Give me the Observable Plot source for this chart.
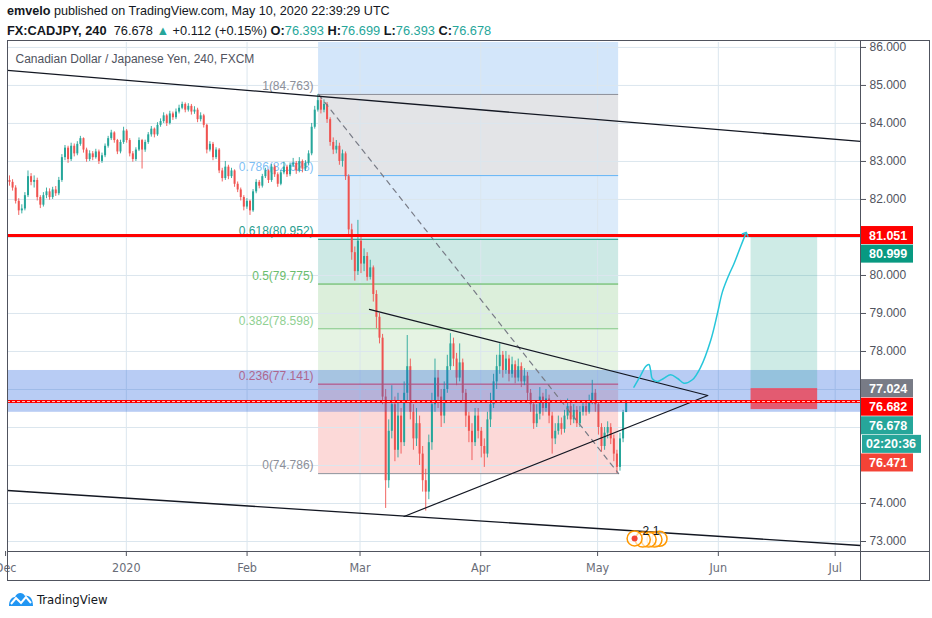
<!DOCTYPE html>
<html><head><meta charset="utf-8">
<script src="https://cdn.jsdelivr.net/npm/d3@7"></script>
<script src="https://cdn.jsdelivr.net/npm/@observablehq/plot@0.6"></script>
<style>
body{margin:0;background:#fff;width:932px;height:618px;overflow:hidden;font-family:"Liberation Sans",Arial,sans-serif;color:#131722;position:relative;}
#hdr{height:38px;position:relative;}
.ln{position:absolute;left:7px;white-space:nowrap;}
.l1{top:4px;font-size:12.6px;} .l2{top:23px;font-size:12.8px;}
.t{color:#26a69a}
#chart{position:absolute;left:0;top:38px;}
#foot{position:absolute;left:8px;top:591px;display:flex;align-items:center;font-family:"Liberation Sans Narrow","DejaVu Sans Condensed","Liberation Sans",sans-serif;font-size:13px;color:#131722;}
#foot svg{margin-right:3px;}
</style></head>
<body>
<div id="hdr">
<div class="ln l1"><b>emvelo</b> published on TradingView.com, May 10, 2020 22:39:29 UTC</div>
<div class="ln l2"><b>FX:CADJPY, 240</b>&nbsp; 76.678 <span class="t">▲</span> +0.112 (+0.15%) <b>O:</b><span class="t">76.393</span> <b>H:</b><span class="t">76.699</span> <b>L:</b><span class="t">76.393</span> <b>C:</b><span class="t">76.678</span></div>
</div>
<div id="chart"></div>
<div id="foot"><svg width="26" height="16" viewBox="0 0 26 16"><path d="M1 15 C1 9 4 6 7 6 C9 1 15 1 17 5 C22 4 25 8 25 15 Z" fill="#2196f3"/><polyline points="3,13 8,7 13,12 18,6 23,12" fill="none" stroke="#fff" stroke-width="2"/></svg><span>TradingView</span></div>
<script>
// ---- candles (sampled bars, CADJPY) ----
const barStart = "2019-12-02T00:00:00Z";
const barHours = 19;
const firstOpen = 82.50;
const closes = [
82.45,82.30,81.95,81.70,81.75,82.10,82.60,82.45,82.50,82.05,
81.85,82.10,82.20,82.05,82.25,82.15,82.50,83.10,83.35,83.05,
83.40,83.20,83.45,83.60,83.30,83.05,83.20,83.10,83.25,83.00,
83.15,83.40,83.60,83.75,83.55,83.25,83.50,83.80,83.55,83.20,
83.05,83.30,83.55,83.30,83.50,83.70,83.85,83.70,83.95,84.05,
84.20,84.00,84.25,84.15,84.30,84.40,84.50,84.35,84.45,84.30,
84.35,84.10,84.20,83.95,83.30,83.45,83.10,83.30,82.75,82.55,
82.85,82.60,82.75,82.40,82.25,82.05,81.80,81.95,81.70,82.20,
82.45,82.35,82.60,82.75,82.50,82.85,82.65,82.40,82.70,82.85,
82.65,82.90,82.95,82.75,83.00,82.80,82.95,83.20,83.90,84.35,
84.60,84.35,84.50,84.10,83.50,83.30,83.40,83.00,83.20,82.60,
81.20,80.60,80.10,80.90,80.30,80.50,79.95,80.20,79.50,78.90,
78.35,76.80,74.60,75.90,76.60,75.40,76.30,75.60,76.90,77.60,
76.40,75.70,76.10,75.30,74.60,74.30,75.60,76.60,77.30,76.80,
76.30,77.00,77.60,78.20,77.80,77.30,77.70,76.90,76.30,75.90,
75.60,76.30,75.90,75.50,75.30,76.20,76.60,77.20,77.60,77.90,
77.50,77.80,77.40,77.65,77.30,77.60,77.20,77.35,76.90,76.60,
76.10,76.35,76.80,76.50,76.75,76.30,75.70,75.90,76.10,75.95,
76.30,76.55,76.20,76.45,76.10,76.40,76.55,76.40,76.70,76.90,
76.60,76.00,75.50,75.85,76.00,75.70,75.30,74.95,75.70,76.393,
76.678];
const highs = [
82.62,82.52,82.36,82.02,81.86,82.18,82.75,82.68,82.62,82.56,
82.10,82.18,82.30,82.28,82.32,82.34,82.58,83.18,83.42,83.40,
83.48,83.46,83.52,83.66,83.62,83.35,83.28,83.26,83.32,83.30,
83.22,83.46,83.66,83.82,83.78,83.58,83.56,83.90,83.84,83.60,
83.26,83.36,83.62,83.58,83.56,83.76,83.92,83.88,84.02,84.12,
84.28,84.24,84.32,84.30,84.38,84.48,84.56,84.54,84.52,84.50,
84.44,84.40,84.28,84.24,83.98,83.52,83.50,83.36,83.34,82.82,
83.00,82.90,82.82,82.78,82.46,82.30,82.10,82.02,81.98,82.26,
82.52,82.50,82.66,82.82,82.78,82.92,82.90,82.70,82.76,82.98,
82.90,82.96,83.08,83.00,83.10,83.04,83.02,83.28,84.00,84.45,
84.763,84.68,84.62,84.55,84.15,83.62,83.55,83.48,83.30,83.25,
82.65,81.35,80.75,81.45,81.00,80.70,80.60,80.40,80.25,79.60,
79.00,78.45,77.00,76.20,77.10,76.80,76.90,76.50,77.20,78.42,
77.80,76.60,76.50,76.30,75.50,74.90,75.80,76.90,77.80,77.50,
77.00,77.20,77.90,78.47,78.35,77.95,78.20,77.80,77.00,76.40,
76.10,76.50,76.50,76.00,75.70,76.40,76.90,77.40,77.90,78.20,
78.00,78.00,77.90,77.85,77.75,77.80,77.70,77.55,77.45,77.00,
76.70,76.60,77.05,76.90,77.00,76.85,76.40,76.10,76.30,76.25,
76.45,76.75,76.65,76.60,76.55,76.55,76.70,76.65,76.85,77.24,
77.00,76.70,76.10,76.00,76.15,76.10,75.80,75.40,75.85,76.45,
76.699];
const lows = [
82.35,82.22,81.88,81.58,81.62,81.70,82.05,82.36,82.30,81.96,
81.76,81.80,82.02,81.98,82.00,82.08,82.10,82.45,83.02,82.95,
83.00,83.12,83.15,83.40,83.22,82.98,83.00,83.02,83.06,82.92,
82.95,83.10,83.35,83.55,83.48,83.18,83.20,83.45,83.48,83.12,
82.98,83.00,83.26,82.80,83.24,83.45,83.64,83.62,83.66,83.90,
84.00,83.92,83.96,84.08,84.10,84.25,84.36,84.28,84.30,84.22,
84.24,84.02,84.04,83.88,83.20,83.25,83.02,83.05,82.68,82.46,
82.50,82.52,82.55,82.32,82.18,81.96,81.70,81.74,81.58,81.66,
82.15,82.28,82.30,82.55,82.42,82.45,82.58,82.32,82.36,82.65,
82.58,82.60,82.84,82.66,82.70,82.70,82.74,82.90,83.15,83.85,
84.30,84.25,84.28,84.00,83.40,83.18,83.20,82.90,82.85,82.50,
81.00,80.40,79.85,80.00,80.05,80.10,79.85,79.88,79.30,78.60,
78.20,76.60,73.87,74.40,75.70,75.10,75.20,75.30,75.50,76.70,
76.20,75.40,75.50,75.00,74.30,73.80,74.10,75.40,76.40,76.50,
76.00,76.10,76.90,77.50,77.60,77.10,77.20,76.70,76.00,75.60,
75.13,75.50,75.70,75.20,74.95,75.20,76.00,76.50,77.00,77.40,
77.30,77.40,77.20,77.30,77.15,77.20,77.05,77.10,76.70,76.40,
75.95,76.00,76.20,76.30,76.40,76.10,75.30,75.55,75.80,75.80,
75.85,76.20,76.05,76.10,76.00,76.00,76.30,76.30,76.35,76.60,
76.40,75.80,75.35,75.40,75.70,75.55,75.10,74.786,74.85,75.60,
76.393];

// ---- drawings (x as days after 2020-01-01, y as price) ----
const fibLevels = ["1","0.786","0.618","0.5","0.382","0.236","0"];
const fibPrices = [84.763,82.628,80.952,79.775,78.598,77.141,74.786];
const fibStartDay = 49.36, fibEndDay = 126.4;
const upperChanDays = [-30.5,188.5], upperChanPrices = [85.395,83.526];
const lowerChanDays = [-30.5,188.5], lowerChanPrices = [74.342,72.895];
const triDays = [62.4,149.3,71.3], triPrices = [79.11,76.842,73.658];
const dashDays = [49.36,126.4], dashPrices = [84.763,74.786];
const cyanDays = [130.33,132.05,133.33,134.18,134.62,135.05,136.34,137.95,139.75,141.55,143.17,145.33,147.46,150.03,151.75,153.03,154.65,156.01,157.73,159.02];
const cyanPrices = [77.061,77.368,77.605,77.658,77.5,77.282,77.211,77.289,77.387,77.289,77.166,77.255,77.587,78.289,78.992,79.561,80.0,80.308,80.763,81.097];
const longDays = [160.4,177.5];
const longEntry = 77.024, longTarget = 80.999, longStop = 76.471;
const bandPrices = [76.40,77.50];
const redLevels = [81.051,76.682];
const eventDays = [136.9,135.6,134.1,132.6,130.5];
const eventPrices = [73.07,73.05,73.05,73.05,73.08];
const eventCountDays = [133.4,136.0], eventCountText = ["2","1"];
const yGridTicks = [73,74,75,76,77,78,79,80,81,82,83,84,85,86];
const yAxisTicks = [73,74,78,79,80,82,83,84,85,86];
const monthTicks = ["2019-12-01","2020-01-01","2020-02-01","2020-03-01","2020-04-01","2020-05-01","2020-06-01","2020-07-01"];
const monthLabels = ["Dec","2020","Feb","Mar","Apr","May","Jun","Jul"];
const axisLabelText = ["81.051","80.999","77.024","76.682","76.678","02:20:36","76.471"];
const axisLabelPrice = [81.051,80.999,77.024,76.682,76.678,76.678,76.471];
const titleText = "Canadian Dollar / Japanese Yen, 240, FXCM";

// ---- styles ----
const fibLineColors = ["#8c8f99","#64b5f6","#089981","#4caf50","#81c784","#f23645","#8c8f99"];
const fibTextColors = ["#8c8f99","#7fbff5","#2a9d8f","#6bbd6e","#8fd092","#f06a6a","#8c8f99"];
const fibZoneColors = ["#e3e4e7","#dcebfa","#cde9e5","#dcefdb","#e5f3e3","#fcd9d8"];
const axisLabelColors = ["#ff0000","#089981","#787b86","#ff0000","#26a69a","#26a69a","#f44336"];

const day = d => new Date(Date.UTC(2020,0,1) + d*864e5);
const t0 = Date.parse(barStart);
const bars = closes.map((c,i) => ({
  t: new Date(t0 + i*barHours*36e5),
  o: i === 0 ? firstOpen : closes[i-1], c, h: highs[i], l: lows[i]
}));
const xMin = day(-30.51), xMax = day(188.5);
const yMin = 72.737, yMax = 86.13;
const fibX1 = day(fibStartDay), fibX2 = day(fibEndDay);
const fib = fibPrices.map((p,i) => ({p, label: `${fibLevels[i]}(${p.toFixed(3)})`, line: fibLineColors[i], txt: fibTextColors[i]}));
const zones = fibPrices.slice(0,-1).map((p,i) => ({y1: p, y2: fibPrices[i+1], fill: fibZoneColors[i]}));
const pts = (ds, ps) => ds.map((d,i) => ({x: day(d), y: ps[i]}));
const mTicks = monthTicks.map(s => new Date(s + "T00:00:00Z"));
const UP = "#26a69a", DN = "#ef5350";

const plot = Plot.plot({
  width: 932, height: 545,
  marginLeft: 7, marginRight: 72, marginTop: 4, marginBottom: 32,
  x: {type: "utc", domain: [xMin, xMax]},
  y: {domain: [yMin, yMax]},
  color: {type: "identity"},
  style: {fontFamily: "'Liberation Sans', Arial, sans-serif", fontSize: "12px", background: "transparent", overflow: "visible"},
  marks: [
    Plot.rect([{}], {x1: () => fibX1, x2: () => fibX2, y1: () => fibPrices[0], y2: () => yMax, fill: "#d3e6fa"}),
    Plot.rect(zones, {x1: () => fibX1, x2: () => fibX2, y1: "y1", y2: "y2", fill: "fill"}),
    Plot.gridY({ticks: yGridTicks, stroke: "#dbe6ee", strokeOpacity: 1}),
    Plot.gridX({ticks: mTicks.slice(1), stroke: "#dbe6ee", strokeOpacity: 1}),
    Plot.ruleY(fib, {y: "p", x1: () => fibX1, x2: () => fibX2, stroke: "line", strokeWidth: 1}),
    Plot.text(fib, {x: () => fibX1, y: "p", text: "label", fill: "txt", textAnchor: "end", dx: -5, dy: -8, ariaLabel: "fib-label"}),
    Plot.ruleX(bars, {x: "t", y1: "l", y2: "h", stroke: d => d.c >= d.o ? UP : DN, strokeWidth: 0.9}),
    Plot.ruleX(bars, {x: "t", y1: "o", y2: "c", stroke: d => d.c >= d.o ? UP : DN, strokeWidth: 2}),
    Plot.rect([{}], {x1: () => xMin, x2: () => xMax, y1: () => bandPrices[0], y2: () => bandPrices[1], fill: "rgb(33,96,220)", fillOpacity: 0.32}),
    Plot.rect([{}], {x1: () => day(longDays[0]), x2: () => day(longDays[1]), y1: () => longEntry, y2: () => longTarget, fill: "#089981", fillOpacity: 0.2}),
    Plot.rect([{}], {x1: () => day(longDays[0]), x2: () => day(longDays[1]), y1: () => longStop, y2: () => longEntry, fill: "#f23645", fillOpacity: 0.75}),
    Plot.line(pts(dashDays, dashPrices), {x: "x", y: "y", stroke: "#787b86", strokeWidth: 1.2, strokeDasharray: "5,5"}),
    Plot.line(pts(upperChanDays, upperChanPrices), {x: "x", y: "y", stroke: "#131722", strokeWidth: 1.3}),
    Plot.line(pts(lowerChanDays, lowerChanPrices), {x: "x", y: "y", stroke: "#131722", strokeWidth: 1.3}),
    Plot.line(pts(triDays, triPrices), {x: "x", y: "y", stroke: "#131722", strokeWidth: 1.2}),
    Plot.ruleY(redLevels, {x1: () => xMin, x2: () => xMax, stroke: "#ff0000", strokeWidth: 3}),
    Plot.ruleY([redLevels[1]], {x1: () => xMin, x2: () => xMax, stroke: "#ffffff", strokeWidth: 0.8, strokeDasharray: "3,2"}),
    Plot.line(pts(cyanDays, cyanPrices), {x: "x", y: "y", stroke: "#26c6da", strokeWidth: 1.5, curve: "catmull-rom", markerEnd: "arrow"}),
    Plot.dot(pts(eventDays, eventPrices), {x: "x", y: "y", r: 7.5, stroke: "#ff9800", strokeWidth: 1.5, fill: "#fff", fillOpacity: 0.6}),
    Plot.dot(pts([eventDays[4]], [eventPrices[4]]), {x: "x", y: "y", r: 3, fill: "#f44336"}),
    Plot.text(eventCountText, {x: (d,i) => day(eventCountDays[i]), y: () => 73.28, text: d => d, fill: "#131722", ariaLabel: "event-count"}),
    Plot.text([titleText], {frameAnchor: "top-left", dx: 8, dy: 12, fill: "#50535e", ariaLabel: "chart-title"}),
    Plot.axisY({anchor: "right", ticks: yAxisTicks, tickFormat: d => d.toFixed(3), tickSize: 5, tickPadding: 4, color: "#50535e", stroke: "#50535e"}),
    Plot.axisX({anchor: "bottom", ticks: mTicks, tickFormat: d => monthLabels[mTicks.findIndex(m => +m === +d)], tickSize: 5, tickPadding: 7, color: "#6a6d78", stroke: "#50535e"})
  ]
});
document.getElementById("chart").appendChild(plot);

const svg = d3.select(plot);
// text styling
svg.selectAll('g[aria-label="fib-label"] text').style("font-size", "11.5px");
svg.selectAll('g[aria-label="event-count"] text').style("font-size", "10px");
svg.selectAll('g[aria-label="chart-title"] text').style("font-size", "13.3px");
svg.selectAll('g[aria-label="y-axis tick label"] text').style("font-size", "12px");
svg.selectAll('g[aria-label="x-axis tick label"] text').style("font-size", "12.5px").style("font-family", "'Liberation Sans Narrow','DejaVu Sans Condensed','Liberation Sans',sans-serif");

// frame lines and price labels on the axis
const ys = plot.scale("y");
svg.append("rect").attr("x", 7.5).attr("y", 2.5).attr("width", 922).attr("height", 540).attr("fill", "none").attr("stroke", "#50535e");
svg.append("line").attr("x1", 860.5).attr("x2", 860.5).attr("y1", 2.5).attr("y2", 542.5).attr("stroke", "#50535e");
svg.append("line").attr("x1", 7.5).attr("x2", 929.5).attr("y1", 513.5).attr("y2", 513.5).attr("stroke", "#50535e");
let prev = -Infinity;
axisLabelText.forEach((t, i) => {
  let y = ys.apply(axisLabelPrice[i]);
  if (y < prev + 18.6) y = prev + 18.6;
  prev = y;
  const wide = t.includes(":");
  svg.append("rect").attr("x", wide ? 862 : 861).attr("y", y - 9).attr("width", wide ? 59 : 52).attr("height", 18).attr("fill", axisLabelColors[i]);
  svg.append("text").attr("x", wide ? 866 : 869).attr("y", y).attr("dy", "0.36em").attr("fill", "#fff")
    .attr("text-anchor", "start")
    .style("font", "600 12.5px 'Liberation Sans', Arial, sans-serif").text(t);
});
</script>
</body></html>
